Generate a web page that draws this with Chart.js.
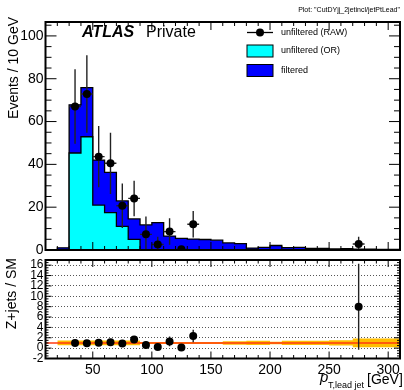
<!DOCTYPE html>
<html>
<head>
<meta charset="utf-8">
<script src="https://cdn.jsdelivr.net/npm/chart.js@4.4.1/dist/chart.umd.min.js"></script>
<style>
  body { margin: 0; background: #fff; }
  #wrap { position: relative; width: 404px; height: 390px; }
  #top { position: absolute; left: 0; top: 0; }
  #bot { position: absolute; left: 0; top: 256px; }
</style>
</head>
<body>
<div id="wrap">
  <canvas id="top" width="404" height="256"></canvas>
  <canvas id="bot" width="404" height="134"></canvas>
</div>
<script>
// bin edges (10 GeV bins)
const binEdges = [10, 20, 30, 40, 50, 60, 70, 80, 90, 100, 110, 120, 130, 140, 150, 160,
                  170, 180, 190, 200, 210, 220, 230, 240, 250, 260, 270, 280, 290, 300, 310];

// events per bin
const filtered = [0, 1, 67.8, 75.8, 42, 36.3, 22.9, 14.5, 11.7, 12.8, 6.5, 5.4, 5.1, 4.9, 4.6,
                  3.3, 3.0, 0.9, 1.2, 2.1, 1.1, 1.2, 0.7, 0.7, 0.5, 0.6, 0.4, 0.4, 0.3, 0.3];
const unfilteredOR = [0, 0, 45.3, 52.9, 21, 17.5, 11, 5, 0, 0, 0, 0, 0, 0, 0,
                      0, 0, 0, 0, 0, 0, 0, 0, 0, 0, 0, 0, 0, 0, 0];

// unfiltered (RAW) points
const rawCenters = [35, 45, 55, 65, 75, 85, 95, 105, 115, 125, 135, 275];
const rawValues  = [67, 72.9, 43.6, 40.5, 20.7, 24.1, 7.3, 2.6, 8.6, 0.3, 12, 2.8];
const rawErrors  = [17.4, 18.1, 14.3, 14.3, 10.4, 8.3, 8.3, 3.6, 6.2, 0.5, 6.2, 3.4];

// ratio panel
const ratioValues = [1.0, 0.96, 1.04, 1.12, 0.9, 1.66, 0.62, 0.2, 1.3, 0.1, 2.35, 8.0];
const ratioErrors = [0.26, 0.24, 0.34, 0.39, 0.45, 0.58, 0.65, 0.28, 0.95, 0.1, 1.2, 8.3];
const bandErr = [null, 0.45, 0.45, 0.45, 0.45, 0.45, 0.45, 0.45, 0.2, 0.2, 0.2, 0.2, 0.2, 0.2, 0.2,
                 0.35, 0.35, 0.4, 0.4, 0.25, 0.4, 0.4, 0.4, 0.4, 0.5, 0.5, 0.85, 0.85, 0.85, 0.85];
const refLine = [1, 1];

// ticks
const xLabelTicks = [50, 100, 150, 200, 250, 300];
const topYTicks = [0, 20, 40, 60, 80, 100];
const ratioYTicks = [-2, 0, 2, 4, 6, 8, 10, 12, 14, 16];

const FONT = 'Liberation Sans, Arial, Helvetica, sans-serif';

function stepPoints(vals, off) {
    const pts = [];
    vals.forEach((v, i) => {
        if (v === null) return;
        pts.push({ x: binEdges[i], y: off === undefined ? v : off(v) });
    });
    const last = vals[vals.length - 1];
    pts.push({ x: binEdges[vals.length], y: off === undefined ? last : off(last) });
    return pts;
}

// no extra label padding, keep the plot frame where we put it
function fixY(s) {
    s.width = 45.5;
    s.paddingTop = 0;
    s.paddingBottom = 0;
}
function fixX(s, h) {
    s.height = h;
    s.paddingLeft = 0;
    s.paddingRight = 0;
}

const rootPad = {
    id: 'rootPad',
    beforeDatasetDraw(chart, args) {
        const ds = chart.data.datasets[args.index];
        if (!ds.errs) return;
        const ctx = chart.ctx, xs = chart.scales.x, ys = chart.scales.y, a = chart.chartArea;
        ctx.save();
        ctx.beginPath();
        ctx.rect(a.left, a.top, a.right - a.left, a.bottom - a.top);
        ctx.clip();
        ctx.strokeStyle = '#222';
        ctx.lineWidth = 1.4;
        ds.data.forEach((p, i) => {
            const px = xs.getPixelForValue(p.x), py = ys.getPixelForValue(p.y);
            const e = ds.errs[i];
            ctx.beginPath();
            ctx.moveTo(px, ys.getPixelForValue(p.y - e));
            ctx.lineTo(px, ys.getPixelForValue(p.y + e));
            if (ds.xerr) {
                ctx.moveTo(xs.getPixelForValue(p.x - ds.xerr), py);
                ctx.lineTo(xs.getPixelForValue(p.x + ds.xerr), py);
            }
            ctx.stroke();
        });
        ctx.restore();
    },
    afterDraw(chart, args, o) {
        const ctx = chart.ctx, a = chart.chartArea, xs = chart.scales.x, ys = chart.scales.y;
        ctx.save();
        ctx.strokeStyle = '#000';
        ctx.lineWidth = 1;
        ctx.beginPath();
        // x ticks, bottom and top, pointing inward
        for (let v = xs.min; v <= xs.max + 0.01; v += o.xMinor) {
            const px = xs.getPixelForValue(v);
            const len = (v % o.xMajor === 0) ? o.xMajorLen : o.xMinorLen;
            ctx.moveTo(px, a.bottom); ctx.lineTo(px, a.bottom - len);
            ctx.moveTo(px, a.top); ctx.lineTo(px, a.top + len);
        }
        // y ticks, left and right
        for (let v = o.yStart; v <= ys.max + 0.001; v += o.yMinor) {
            if (v < ys.min) continue;
            const py = ys.getPixelForValue(v);
            const major = Math.abs(Math.round(v / o.yMajor) * o.yMajor - v) < 1e-6;
            const len = major ? o.yMajorLen : o.yMinorLen;
            ctx.moveTo(a.left, py); ctx.lineTo(a.left + len, py);
            ctx.moveTo(a.right, py); ctx.lineTo(a.right - len, py);
        }
        ctx.stroke();
        ctx.lineWidth = 2;
        ctx.strokeRect(a.left, a.top, a.right - a.left, a.bottom - a.top);
        if (o.draw) o.draw(ctx, chart);
        ctx.restore();
    }
};

function drawTopText(ctx) {
    ctx.fillStyle = '#000';
    ctx.textBaseline = 'alphabetic';
    ctx.textAlign = 'right';
    ctx.font = '7px ' + FONT;
    ctx.fillText('Plot: "CutDYjj_2jetincl/jetPtLead"', 400, 12);

    ctx.textAlign = 'left';
    ctx.font = 'italic bold 16px ' + FONT;
    ctx.fillText('ATLAS', 82, 37);
    ctx.font = '16px ' + FONT;
    ctx.fillText('Private', 146, 37);

    // legend
    ctx.lineWidth = 1.3;
    ctx.strokeStyle = '#000';
    ctx.beginPath();
    ctx.moveTo(247, 32.5); ctx.lineTo(273, 32.5);
    ctx.stroke();
    ctx.beginPath();
    ctx.arc(260, 32.5, 4, 0, Math.PI * 2);
    ctx.fill();
    ctx.lineWidth = 1;
    ctx.fillStyle = '#00FFFF';
    ctx.fillRect(247, 45, 26, 12);
    ctx.strokeRect(247, 45, 26, 12);
    ctx.fillStyle = '#0000FF';
    ctx.fillRect(247, 64.5, 26, 12);
    ctx.strokeRect(247, 64.5, 26, 12);
    ctx.fillStyle = '#000';
    ctx.font = '9px ' + FONT;
    ctx.textBaseline = 'middle';
    ctx.fillText('unfiltered (RAW)', 281, 32.5);
    ctx.fillText('unfiltered (OR)', 281, 51);
    ctx.fillText('filtered', 281, 70.5);

    // y title
    ctx.save();
    ctx.translate(14, 17);
    ctx.rotate(-Math.PI / 2);
    ctx.textAlign = 'right';
    ctx.font = '14px ' + FONT;
    ctx.fillText('Events / 10 GeV', 0, 0);
    ctx.restore();
}

function drawBotText(ctx) {
    ctx.fillStyle = '#000';
    ctx.save();
    ctx.translate(12, 2);
    ctx.rotate(-Math.PI / 2);
    ctx.textAlign = 'right';
    ctx.textBaseline = 'middle';
    ctx.font = '14px ' + FONT;
    ctx.fillText('Z+jets / SM', 0, 0);
    ctx.restore();

    ctx.textAlign = 'left';
    ctx.textBaseline = 'alphabetic';
    ctx.font = 'italic 15px ' + FONT;
    ctx.fillText('p', 320, 126);
    ctx.font = '9px ' + FONT;
    ctx.fillText('T,lead jet', 328, 132);
    ctx.font = '14px ' + FONT;
    ctx.fillText('[GeV]', 367, 128);
}

new Chart(document.getElementById('top'), {
    type: 'line',
    data: {
        datasets: [
            {
                label: 'unfiltered (RAW)',
                data: rawCenters.map((x, i) => ({ x: x, y: rawValues[i] })),
                showLine: false,
                pointRadius: 4,
                pointBackgroundColor: '#000',
                pointBorderWidth: 0,
                errs: rawErrors,
                xerr: 5
            },
            {
                label: 'unfiltered (OR)',
                data: stepPoints(unfilteredOR),
                stepped: 'before',
                fill: 'origin',
                backgroundColor: '#00FFFF',
                borderColor: '#000',
                borderWidth: 1.3,
                pointRadius: 0
            },
            {
                label: 'filtered',
                data: stepPoints(filtered),
                stepped: 'before',
                fill: 'origin',
                backgroundColor: '#0000FF',
                borderColor: '#000',
                borderWidth: 1.3,
                pointRadius: 0
            }
        ]
    },
    options: {
        animation: false,
        responsive: false,
        events: [],
        layout: { padding: { top: 22, right: 2.5, bottom: 6, left: 0 } },
        plugins: {
            legend: { display: false },
            tooltip: { enabled: false },
            rootPad: {
                xMinor: 10, xMajor: 50, xMajorLen: 8, xMinorLen: 4,
                yStart: 0, yMinor: 5, yMajor: 20, yMajorLen: 11, yMinorLen: 6,
                draw: drawTopText
            }
        },
        scales: {
            x: { type: 'linear', min: 10, max: 310, display: false },
            y: {
                min: 0, max: 106.5,
                afterBuildTicks: s => { s.ticks = topYTicks.map(v => ({ value: v })); },
                afterFit: fixY,
                grid: { display: false, drawTicks: false },
                border: { display: false },
                ticks: { font: { family: FONT, size: 14 }, color: '#000', padding: 2 }
            }
        }
    },
    plugins: [rootPad]
});

new Chart(document.getElementById('bot'), {
    type: 'line',
    data: {
        datasets: [
            {
                label: 'ratio',
                data: rawCenters.map((x, i) => ({ x: x, y: ratioValues[i] })),
                showLine: false,
                pointRadius: 4,
                pointBackgroundColor: '#000',
                pointBorderWidth: 0,
                errs: ratioErrors
            },
            {
                label: 'ref',
                data: [{ x: binEdges[0], y: refLine[0] }, { x: binEdges[binEdges.length - 1], y: refLine[1] }],
                borderColor: '#FF3A10',
                borderWidth: 1.5,
                pointRadius: 0
            },
            {
                label: 'band up',
                data: stepPoints(bandErr, e => 1 + e),
                stepped: 'before',
                borderWidth: 0,
                pointRadius: 0,
                fill: '+1',
                backgroundColor: '#FFBE00'
            },
            {
                label: 'band down',
                data: stepPoints(bandErr, e => 1 - e),
                stepped: 'before',
                borderWidth: 0,
                pointRadius: 0,
                fill: false
            }
        ]
    },
    options: {
        animation: false,
        responsive: false,
        events: [],
        layout: { padding: { top: 4, right: 2.5, bottom: 0, left: 0 } },
        plugins: {
            legend: { display: false },
            tooltip: { enabled: false },
            rootPad: {
                xMinor: 10, xMajor: 50, xMajorLen: 7, xMinorLen: 3.5,
                yStart: -2, yMinor: 0.5, yMajor: 2, yMajorLen: 6, yMinorLen: 3,
                draw: drawBotText
            }
        },
        scales: {
            x: {
                type: 'linear', min: 10, max: 310,
                afterBuildTicks: s => { s.ticks = xLabelTicks.map(v => ({ value: v })); },
                afterFit: s => fixX(s, 31.5),
                grid: { display: false, drawTicks: false },
                border: { display: false },
                ticks: { font: { family: FONT, size: 14 }, color: '#000', padding: 3, maxRotation: 0, autoSkip: false }
            },
            y: {
                min: -2, max: 17,
                afterBuildTicks: s => { s.ticks = ratioYTicks.map(v => ({ value: v })); },
                afterFit: fixY,
                grid: { color: '#555', lineWidth: 1, drawTicks: false },
                border: { display: false, dash: [1, 2] },
                ticks: { font: { family: FONT, size: 12 }, color: '#000', padding: 2, autoSkip: false }
            }
        }
    },
    plugins: [rootPad]
});
</script>
</body>
</html>
